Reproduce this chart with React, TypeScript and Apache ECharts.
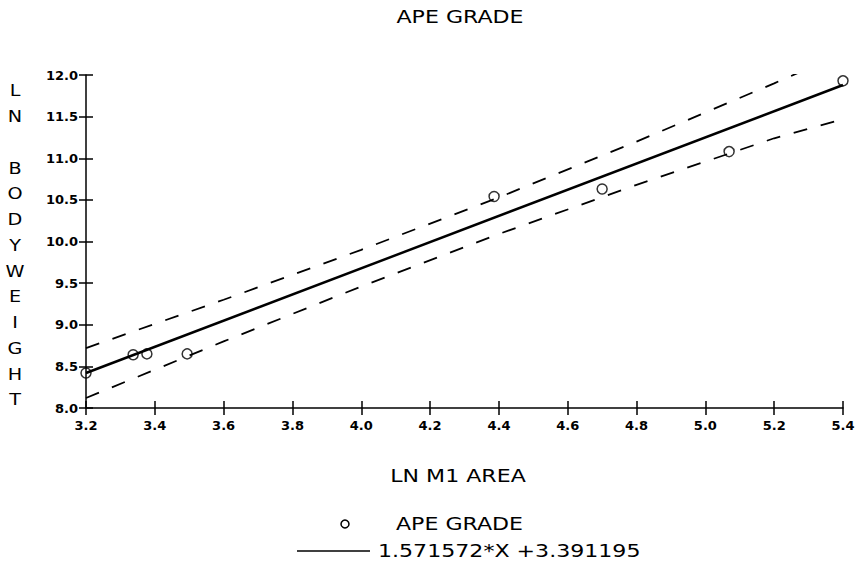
import React, { useEffect, useRef } from "react";
import * as echarts from "echarts";

// Observed data (LN M1 AREA vs LN BODYWEIGHT)
const lnM1Area = [3.2, 3.337, 3.377, 3.494, 4.386, 4.7, 5.069, 5.4];
const lnBodyweight = [8.42, 8.64, 8.65, 8.65, 10.54, 10.63, 11.08, 11.93];

// Fitted line end points: 1.571572*X + 3.391195
const fitX = [3.2, 5.4];
const fitY = [8.42, 11.88];

// Confidence band (dashed)
const bandX = [3.2, 3.6, 4.0, 4.4, 4.8, 5.2, 5.4];
const bandUpper = [8.72, 9.3, 9.9, 10.53, 11.2, 11.9, 12.26];
const bandLower = [8.12, 8.8, 9.46, 10.09, 10.68, 11.24, 11.47];

const titleText = "APE GRADE";
const xName = "LN M1 AREA";
const yName = "LN BODYWEIGHT";
const fitName = "1.571572*X +3.391195";

const FONT = "DejaVu Sans";
const SX = 1.3;

export default function App() {
  const ref = useRef<HTMLDivElement>(null);
  useEffect(() => {
    if (!ref.current) return;
    const chart = echarts.init(ref.current, null, { renderer: "svg" });
    const zip = (a: number[], b: number[]) => a.map((v, i) => [v, b[i]]);
    const axisLabel = {
      color: "#000",
      fontFamily: FONT,
      fontWeight: "bold" as const,
      fontSize: 13,
      formatter: (v: number) => v.toFixed(1),
    };
    const letters = yName.split("");
    const graphic: any[] = [
      {
        type: "text", x: 460, y: 17, scaleX: SX,
        style: { text: titleText, font: `17px "${FONT}"`, fill: "#000", textAlign: "center", textVerticalAlign: "middle" },
      },
      {
        type: "text", x: 458, y: 476, scaleX: SX,
        style: { text: xName, font: `17px "${FONT}"`, fill: "#000", textAlign: "center", textVerticalAlign: "middle" },
      },
      {
        type: "circle", shape: { cx: 345, cy: 524, r: 4 },
        style: { fill: "#fff", stroke: "#000", lineWidth: 1.5 },
      },
      {
        type: "text", x: 396, y: 524, scaleX: SX,
        style: { text: titleText, font: `17px "${FONT}"`, fill: "#000", textAlign: "left", textVerticalAlign: "middle" },
      },
      {
        type: "line", shape: { x1: 297, y1: 551, x2: 370, y2: 551 },
        style: { stroke: "#000", lineWidth: 1.5 },
      },
      {
        type: "text", x: 378, y: 551, scaleX: SX,
        style: { text: fitName, font: `17px "${FONT}"`, fill: "#000", textAlign: "left", textVerticalAlign: "middle" },
      },
    ];
    letters.forEach((ch, i) => {
      if (ch === " ") return;
      graphic.push({
        type: "text", x: 15, y: 91 + i * 25.75, scaleX: 1.2,
        style: { text: ch, font: `16px "${FONT}"`, fill: "#000", textAlign: "center", textVerticalAlign: "middle" },
      });
    });

    chart.setOption({
      animation: false,
      backgroundColor: "#fff",
      grid: { left: 86, right: 16, top: 75, bottom: 158 },
      xAxis: [
        {
          type: "value", min: 3.2, max: 5.4, interval: 0.2, position: "bottom",
          axisLine: { onZero: false, lineStyle: { color: "#000", width: 1.5 } },
          axisTick: { inside: false, length: 7, lineStyle: { color: "#000", width: 1.5 } },
          axisLabel: { ...axisLabel, margin: 11 },
          splitLine: { show: false },
        },
        {
          type: "value", min: 3.2, max: 5.4, interval: 0.2, position: "bottom", offset: 0,
          axisLine: { show: false, onZero: false },
          axisTick: { inside: true, length: 7, lineStyle: { color: "#000", width: 1.5 } },
          axisLabel: { show: false },
          splitLine: { show: false },
        },
      ],
      yAxis: [
        {
          type: "value", min: 8, max: 12, interval: 0.5, position: "left",
          axisLine: { show: true, onZero: false, lineStyle: { color: "#000", width: 1.5 } },
          axisTick: { show: true, inside: false, length: 7, lineStyle: { color: "#000", width: 1.5 } },
          axisLabel: { ...axisLabel, margin: 8 },
          splitLine: { show: false },
        },
        {
          type: "value", min: 8, max: 12, interval: 0.5, position: "left", offset: 0,
          axisLine: { show: false, onZero: false },
          axisTick: { show: true, inside: true, length: 7, lineStyle: { color: "#000", width: 1.5 } },
          axisLabel: { show: false },
          splitLine: { show: false },
        },
      ],
      series: [
        {
          name: "upper", type: "line", data: zip(bandX, bandUpper), symbol: "none",
          lineStyle: { color: "#000", width: 1.8, type: [14, 14] }, clip: true,
        },
        {
          name: "lower", type: "line", data: zip(bandX, bandLower), symbol: "none",
          lineStyle: { color: "#000", width: 1.8, type: [14, 14] }, clip: true,
        },
        {
          name: fitName, type: "line", data: zip(fitX, fitY), symbol: "none",
          lineStyle: { color: "#000", width: 2.5 },
        },
        {
          name: titleText, type: "scatter", data: zip(lnM1Area, lnBodyweight),
          symbol: "circle", symbolSize: 10,
          itemStyle: { color: "rgba(255,255,255,0)", borderColor: "#000", borderWidth: 1.5 },
          clip: false,
        },
      ],
      graphic,
    });
    return () => chart.dispose();
  }, []);
  return (
    <div
      ref={ref}
      style={{ position: "fixed", left: 0, top: 0, width: 859, height: 566 }}
    />
  );
}
